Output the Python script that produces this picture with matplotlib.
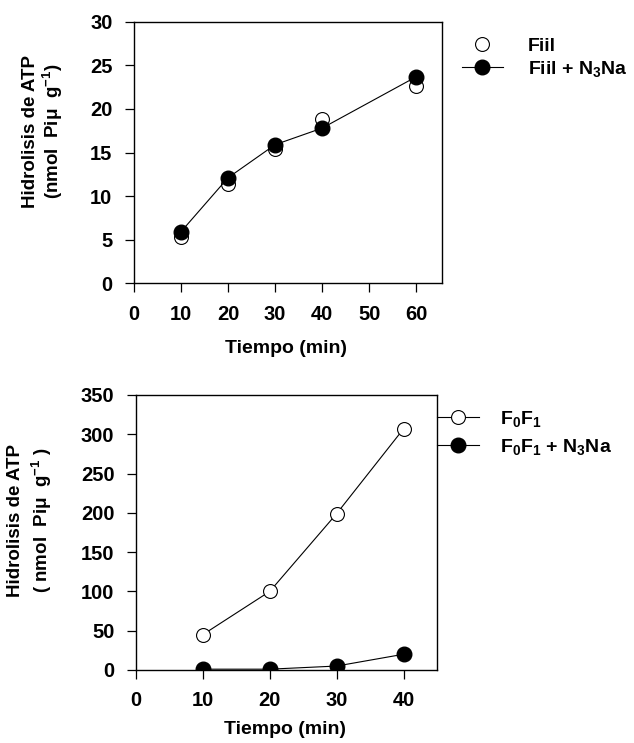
import matplotlib
matplotlib.use('Agg')
import matplotlib.pyplot as plt

plt.rcParams['font.family'] = ['Liberation Sans', 'DejaVu Sans']
plt.rcParams['font.weight'] = 'bold'
plt.rcParams['axes.labelweight'] = 'bold'
plt.rcParams['mathtext.fontset'] = 'custom'
plt.rcParams['mathtext.rm'] = 'Liberation Sans:bold'
plt.rcParams['mathtext.it'] = 'Liberation Sans:bold'
plt.rcParams['mathtext.bf'] = 'Liberation Sans:bold'

# top panel: Fiil
t_top = [10, 20, 30, 40, 60]
fiil = [5.3, 11.4, 15.4, 18.9, 22.6]
fiil_azida = [5.9, 12.1, 15.9, 17.8, 23.7]
top_xticks = [0, 10, 20, 30, 40, 50, 60]
top_yticks = [0, 5, 10, 15, 20, 25, 30]

# bottom panel: F0F1
t_bot = [10, 20, 30, 40]
f0f1 = [45, 100, 199, 307]
f0f1_azida = [1, 1, 5, 20]
bot_xticks = [0, 10, 20, 30, 40]
bot_yticks = [0, 50, 100, 150, 200, 250, 300, 350]

fig = plt.figure(figsize=(6.34, 7.43), dpi=100)
ax1 = fig.add_axes([0.2114, 0.6191, 0.4858, 0.3513])
ax2 = fig.add_axes([0.2145, 0.0983, 0.4748, 0.3701])

for ax in (ax1, ax2):
    for s in ax.spines.values():
        s.set_linewidth(1.0)
    ax.tick_params(direction='out', length=6.5, width=0.9, labelsize=14.5,
                   top=False, right=False, pad=9)
    ax.set_xlabel('Tiempo (min)', fontsize=14)

ax1.set_ylabel('Hidrolisis de ATP\n(nmol  Pi$\\mu$  g$^{-1}$)',
               fontsize=13.5, linespacing=1.1)
ax2.set_ylabel('Hidrolisis de ATP\n( nmol  Pi$\\mu$  g$^{-1}$ )',
               fontsize=13.5, linespacing=1.35)
for ax in (ax1, ax2):
    ax.yaxis.label.set_va('center')
    ax.xaxis.label.set_va('center')
ax1.yaxis.set_label_coords(-0.295, 0.582)
ax2.yaxis.set_label_coords(-0.35, 0.545)
ax1.xaxis.set_label_coords(0.494, -0.249)
ax2.xaxis.set_label_coords(0.495, -0.215)

# top
ax1.plot(t_top, fiil, 'o', ms=10, mfc='white', mec='black', mew=0.8,
         linestyle='none', label='Fiil')
ax1.plot(t_top, fiil_azida, 'o-', ms=10.5, color='black', lw=0.8,
         label='Fiil + N$_3$Na')
ax1.set_xlim(0, 65.5)
ax1.set_ylim(0, 30)
ax1.set_xticks(top_xticks)
ax1.set_yticks(top_yticks)
ax1.legend(loc='center left', bbox_to_anchor=(1.065, 0.8625), frameon=False,
           fontsize=14, handlelength=2.1, handletextpad=1.3,
           borderaxespad=0, borderpad=0, labelspacing=0.2)

# bottom
ax2.plot(t_bot, f0f1, 'o-', ms=10, mfc='white', mec='black', color='black',
         lw=0.8, mew=0.8, label='F$_0$F$_1$')
ax2.plot(t_bot, f0f1_azida, 'o-', ms=10.5, color='black', lw=0.8,
         label='F$_0$F$_1$ + N$_3$Na')
ax2.set_xlim(0, 45)
ax2.set_ylim(0, 350)
ax2.set_xticks(bot_xticks)
ax2.set_yticks(bot_yticks)
ax2.legend(loc='center left', bbox_to_anchor=(1.0, 0.862), frameon=False,
           fontsize=14, handlelength=2.16, handletextpad=1.08,
           borderaxespad=0, borderpad=0, labelspacing=0.45)

fig.savefig('out.png', dpi=100)
